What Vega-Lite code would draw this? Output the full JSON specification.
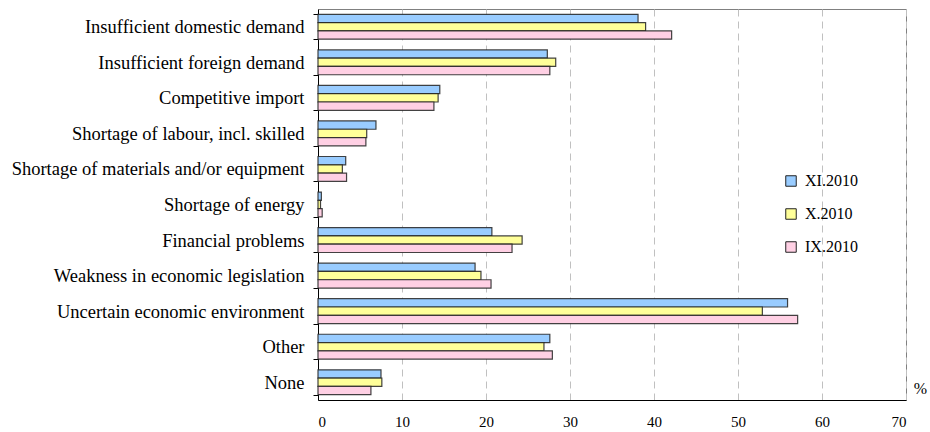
{
  "$schema": "https://vega.github.io/schema/vega-lite/v6.json",
  "width": 588,
  "height": 391,
  "autosize": {"type": "none"},
  "padding": {"left": 318, "top": 9, "right": 24, "bottom": 32},
  "background": "white",
  "config": {
    "font": "Liberation Serif",
    "view": {"stroke": "#808080", "strokeWidth": 1}
  },
  "data": {
    "values": [
      {"cat": "Insufficient domestic demand", "period": "XI.2010", "v": 38.1},
      {"cat": "Insufficient domestic demand", "period": "X.2010", "v": 39.0},
      {"cat": "Insufficient domestic demand", "period": "IX.2010", "v": 42.1},
      {"cat": "Insufficient foreign demand", "period": "XI.2010", "v": 27.3},
      {"cat": "Insufficient foreign demand", "period": "X.2010", "v": 28.3},
      {"cat": "Insufficient foreign demand", "period": "IX.2010", "v": 27.6},
      {"cat": "Competitive import", "period": "XI.2010", "v": 14.5},
      {"cat": "Competitive import", "period": "X.2010", "v": 14.3},
      {"cat": "Competitive import", "period": "IX.2010", "v": 13.8},
      {"cat": "Shortage of labour, incl. skilled", "period": "XI.2010", "v": 6.9},
      {"cat": "Shortage of labour, incl. skilled", "period": "X.2010", "v": 5.8},
      {"cat": "Shortage of labour, incl. skilled", "period": "IX.2010", "v": 5.7},
      {"cat": "Shortage of materials and/or equipment", "period": "XI.2010", "v": 3.3},
      {"cat": "Shortage of materials and/or equipment", "period": "X.2010", "v": 2.9},
      {"cat": "Shortage of materials and/or equipment", "period": "IX.2010", "v": 3.4},
      {"cat": "Shortage of energy", "period": "XI.2010", "v": 0.4},
      {"cat": "Shortage of energy", "period": "X.2010", "v": 0.3},
      {"cat": "Shortage of energy", "period": "IX.2010", "v": 0.5},
      {"cat": "Financial problems", "period": "XI.2010", "v": 20.7},
      {"cat": "Financial problems", "period": "X.2010", "v": 24.3},
      {"cat": "Financial problems", "period": "IX.2010", "v": 23.1},
      {"cat": "Weakness in economic legislation", "period": "XI.2010", "v": 18.7},
      {"cat": "Weakness in economic legislation", "period": "X.2010", "v": 19.4},
      {"cat": "Weakness in economic legislation", "period": "IX.2010", "v": 20.6},
      {"cat": "Uncertain economic environment", "period": "XI.2010", "v": 55.9},
      {"cat": "Uncertain economic environment", "period": "X.2010", "v": 52.9},
      {"cat": "Uncertain economic environment", "period": "IX.2010", "v": 57.1},
      {"cat": "Other", "period": "XI.2010", "v": 27.6},
      {"cat": "Other", "period": "X.2010", "v": 26.9},
      {"cat": "Other", "period": "IX.2010", "v": 27.9},
      {"cat": "None", "period": "XI.2010", "v": 7.5},
      {"cat": "None", "period": "X.2010", "v": 7.6},
      {"cat": "None", "period": "IX.2010", "v": 6.3}
    ]
  },
  "mark": {"type": "bar", "stroke": "#222222", "strokeWidth": 1.2, "strokeOpacity": 0.85},
  "encoding": {
    "y": {
      "field": "cat",
      "type": "nominal",
      "sort": null,
      "scale": {"paddingInner": 0.3, "paddingOuter": 0.15},
      "axis": {
        "title": null,
        "tickBand": "extent",
        "labelFont": "Liberation Serif",
        "labelFontSize": 18.5,
        "labelColor": "#000000",
        "labelPadding": 9,
        "labelLimit": 400,
        "domainColor": "#000000",
        "tickColor": "#000000",
        "tickSize": 5,
        "grid": false
      }
    },
    "yOffset": {
      "field": "period",
      "type": "nominal",
      "sort": ["XI.2010", "X.2010", "IX.2010"],
      "scale": {"paddingInner": 0}
    },
    "x": {
      "field": "v",
      "type": "quantitative",
      "scale": {"domain": [0, 70], "nice": false},
      "axis": {
        "values": [0, 10, 20, 30, 40, 50, 60, 70],
        "title": "%",
        "titleFont": "Liberation Serif",
        "titleFontSize": 16,
        "titleFontWeight": "normal",
        "titleX": 602,
        "titleY": -12,
        "titleBaseline": "middle",
        "titleAlign": "center",
        "titleAnchor": "start",
        "labelFont": "Liberation Serif",
        "labelFontSize": 15,
        "labelColor": "#000000",
        "labelPadding": 14,
        "ticks": false,
        "domainColor": "#000000",
        "grid": true,
        "gridDash": [7, 5],
        "gridColor": "#c0c0c0",
        "gridWidth": 1
      }
    },
    "color": {
      "field": "period",
      "type": "nominal",
      "sort": ["XI.2010", "X.2010", "IX.2010"],
      "scale": {
        "domain": ["XI.2010", "X.2010", "IX.2010"],
        "range": ["#99CCFF", "#FFFF99", "#FFD0E4"]
      },
      "legend": {
        "title": null,
        "orient": "none",
        "legendX": 465,
        "legendY": 164,
        "symbolType": "square",
        "symbolSize": 110,
        "symbolStrokeColor": "#222222",
        "symbolStrokeWidth": 1,
        "labelFont": "Liberation Serif",
        "labelFontSize": 16,
        "labelColor": "#000000",
        "rowPadding": 17,
        "labelOffset": 6
      }
    }
  }
}
